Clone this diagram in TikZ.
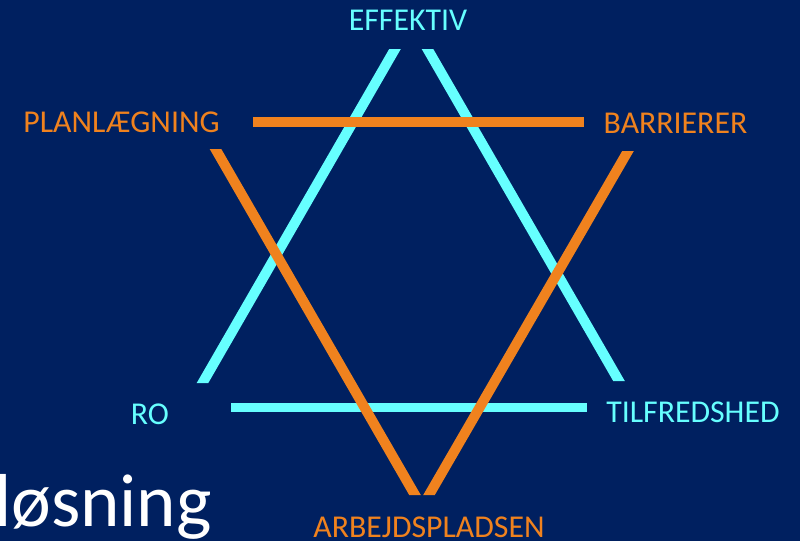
\documentclass[tikz,border=0pt]{standalone}
\usepackage{fontspec}
\setmainfont{Carlito}
\definecolor{navy}{RGB}{0,32,96}
\definecolor{cyanc}{RGB}{102,255,255}
\definecolor{orangec}{RGB}{240,130,30}
\newcommand{\slantbar}[5]{\fill[#1] ({#2-5.8},#3) -- ({#2+5.8},#3) -- ({#4+5.8},#5) -- ({#4-5.8},#5) -- cycle;}
\begin{document}
\begin{tikzpicture}[x=1pt,y=-1pt,
  lbl/.style={inner sep=0pt,font=\fontsize{31.8}{32}\selectfont},
  cyanlbl/.style={lbl,text=cyanc},
  orangelbl/.style={lbl,text=orangec}]
\fill[navy] (0,0) rectangle (800,541);
\useasboundingbox (0,0) rectangle (800,541);
% cyan triangle
\slantbar{cyanc}{395}{49}{202.5}{383}
\slantbar{cyanc}{427.5}{49}{619}{381}
\fill[cyanc] (231,403) rectangle (587,412);
% orange triangle
\fill[orangec] (253,117) rectangle (584,127);
\slantbar{orangec}{215.5}{149}{415}{495}
\slantbar{orangec}{628}{151}{429}{495}
% labels
\node[cyanlbl,anchor=base] (eff) at (408,30) {EFFEKTIV};
\node[orangelbl,anchor=base] (plan) at (121.5,132) {PLANLÆGNING};
\node[orangelbl,anchor=base] (barr) at (675.5,133) {BARRIERER};
\node[cyanlbl,anchor=base] (ro) at (150,424) {RO};
\node[cyanlbl,anchor=base] (tilf) at (693,422) {TILFREDSHED};
\node[orangelbl,anchor=base] (arb) at (429,537) {ARBEJDSPLADSEN};
\node[inner sep=0pt,anchor=base west,text=white,font=\fontsize{75}{75}\selectfont] (los) at (-6,526) {løsning};
\end{tikzpicture}
\end{document}
